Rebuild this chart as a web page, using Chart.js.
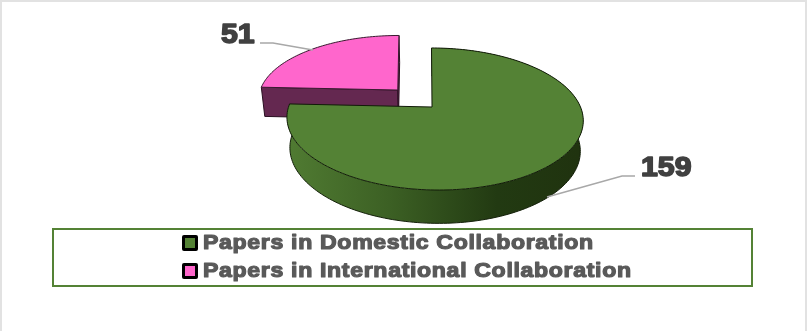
<!DOCTYPE html>
<html>
<head>
<meta charset="utf-8">
<style>
  html, body { margin: 0; padding: 0; background: #fff; }
  canvas { display: block; }
</style>
<script src="https://cdn.jsdelivr.net/npm/chart.js@4"></script>
</head>
<body>
<canvas id="chart" width="807" height="331"></canvas>
<script>
const categories = ['Papers in Domestic Collaboration', 'Papers in International Collaboration'];
const paperCounts = [159, 51];
const sliceColors = ['#548235', '#FF66CC'];
const sliceExplode = [0, 0.355];

// Tilted-disc projection: plane coordinates (u, v) to page pixels.
const disc = { cx: 434.5, cy: 107, a: 146, b: 69, tilt: 0.169, depth: 30, shrinkX: 0.98, growY: 1.04, lean: [0.024, 0.05], apexShift: -0.017 };

function project(u, v, lower) {
  const w = 1 - disc.tilt * v;
  const x = disc.a * u / w;
  const y = disc.b * v / w;
  if (!lower) return [disc.cx + x, disc.cy + y];
  return [disc.cx + x * disc.shrinkX, disc.cy + y * disc.growY + disc.depth];
}

function arcPoints(arc, lower) {
  const n = Math.max(8, Math.ceil((arc.endAngle - arc.startAngle) * 40));
  const mid = (arc.startAngle + arc.endAngle) / 2;
  const ou = Math.cos(mid) * arc.explode, ov = Math.sin(mid) * arc.explode;
  const pts = [];
  for (let i = 0; i <= n; i++) {
    const t = arc.startAngle + (arc.endAngle - arc.startAngle) * i / n;
    pts.push(project(Math.cos(t) + arc.lean * Math.sin(t) + ou, Math.sin(t) + ov, lower));
  }
  return { pts, apex: project(ou + disc.apexShift, ov, lower) };
}

function tracePolygon(ctx, pts) {
  ctx.beginPath();
  pts.forEach((p, i) => i ? ctx.lineTo(p[0], p[1]) : ctx.moveTo(p[0], p[1]));
  ctx.closePath();
}

function drawPolyline(ctx, pts, color, width) {
  ctx.beginPath();
  pts.forEach((p, i) => i ? ctx.lineTo(p[0], p[1]) : ctx.moveTo(p[0], p[1]));
  ctx.strokeStyle = color;
  ctx.lineWidth = width;
  ctx.stroke();
}

// Extra-heavy lettering: bold face, thickened by a stroke and widened horizontally.
function heavyText(ctx, text, x, y, font, color, weight, spacing, widen) {
  ctx.save();
  ctx.translate(x, y);
  ctx.scale(widen, 1);
  ctx.font = font;
  ctx.letterSpacing = spacing;
  ctx.textBaseline = 'middle';
  ctx.textAlign = 'left';
  ctx.fillStyle = color;
  ctx.strokeStyle = color;
  ctx.lineWidth = weight;
  ctx.lineJoin = 'round';
  ctx.strokeText(text, 0, 0);
  ctx.fillText(text, 0, 0);
  ctx.restore();
}

const tiltedPie = {
  id: 'tiltedPie',
  beforeDraw(chart) {
    const ctx = chart.ctx;
    ctx.save();
    ctx.fillStyle = '#fff';
    ctx.fillRect(0, 0, 807, 331);
    ctx.fillStyle = '#e2e2e2';
    ctx.fillRect(0, 0, 807, 2);
    ctx.fillRect(0, 0, 2, 331);
    ctx.fillRect(805, 0, 2, 331);
    ctx.restore();
  },
  // The slices are painted here from the geometry the controller laid out.
  beforeDatasetsDraw(chart) {
    const ctx = chart.ctx;
    const arcs = chart.getDatasetMeta(0).data.map((el, i) => ({
      startAngle: el.startAngle,
      endAngle: el.endAngle,
      explode: sliceExplode[i],
      lean: disc.lean[i],
      color: chart.data.datasets[0].backgroundColor[i]
    }));
    const [green, pink] = arcs;
    ctx.save();

    // Exploded slice sits behind the main one.
    const pTop = arcPoints(pink, false), pLow = arcPoints(pink, true);
    const tip = pTop.pts[0], tipLow = pLow.pts[0];
    const end = pTop.pts[pTop.pts.length - 1], endLow = pLow.pts[pLow.pts.length - 1];
    ctx.fillStyle = '#642850';
    ctx.strokeStyle = '#2a1022';
    ctx.lineWidth = 1;
    tracePolygon(ctx, [tip, pTop.apex, pLow.apex, tipLow]);
    ctx.fill(); ctx.stroke();
    tracePolygon(ctx, [end, pTop.apex, pLow.apex, endLow]);
    ctx.fill(); ctx.stroke();
    tracePolygon(ctx, pTop.pts.concat([pTop.apex]));
    ctx.fillStyle = pink.color;
    ctx.fill();
    ctx.strokeStyle = '#3a1a30';
    ctx.stroke();

    // Main slice: side wall, then top face.
    const gTop = arcPoints(green, false), gLow = arcPoints(green, true);
    const wall = ctx.createLinearGradient(288, 0, 578, 0);
    wall.addColorStop(0, '#507B32');
    wall.addColorStop(0.35, '#3C6024');
    wall.addColorStop(0.72, '#223A12');
    wall.addColorStop(1, '#20330F');
    tracePolygon(ctx, gTop.pts.concat(gLow.pts.slice().reverse()));
    ctx.fillStyle = wall;
    ctx.fill();
    drawPolyline(ctx, gLow.pts, '#14200a', 1);
    const last = gTop.pts.length - 1;
    drawPolyline(ctx, [gTop.pts[last], gLow.pts[last]], '#1a2a0d', 1);
    tracePolygon(ctx, gTop.pts.concat([gTop.apex]));
    ctx.fillStyle = green.color;
    ctx.fill();
    ctx.strokeStyle = '#111a08';
    ctx.stroke();
    ctx.restore();
    return false;
  },
  afterDraw(chart) {
    const ctx = chart.ctx;
    const values = chart.data.datasets[0].data;
    const colors = chart.data.datasets[0].backgroundColor;
    ctx.save();

    // Leader lines and value labels.
    drawPolyline(ctx, [[313, 50], [273, 43], [260, 43]], '#a8a8a8', 1.5);
    drawPolyline(ctx, [[547, 197], [622, 176], [635, 176]], '#a8a8a8', 1.5);
    heavyText(ctx, String(values[0]), 641, 168, 'bold 28px "Liberation Sans"', '#404040', 1.6, '0px', 1.08);
    heavyText(ctx, String(values[1]), 221, 35, 'bold 28px "Liberation Sans"', '#404040', 1.6, '0px', 1.08);

    // Legend frame and entries.
    ctx.strokeStyle = '#548235';
    ctx.lineWidth = 2;
    ctx.strokeRect(53, 229, 699, 57);
    chart.data.labels.forEach((label, i) => {
      const y = 243 + i * 28;
      ctx.beginPath();
      ctx.roundRect(182, y - 8, 16, 16, 2);
      ctx.fillStyle = '#000';
      ctx.fill();
      ctx.fillStyle = colors[i];
      ctx.fillRect(185, y - 5, 10, 10);
      heavyText(ctx, label, 203, y, 'bold 21px "Liberation Sans"', '#595959', 1.2, '0.6px', 1.1);
    });
    ctx.restore();
  }
};

new Chart(document.getElementById('chart'), {
  type: 'pie',
  data: {
    labels: categories,
    datasets: [{ data: paperCounts, backgroundColor: sliceColors, borderWidth: 0 }]
  },
  options: {
    responsive: false,
    animation: false,
    events: [],
    plugins: { legend: { display: false }, tooltip: { enabled: false } }
  },
  plugins: [tiltedPie]
});
</script>
</body>
</html>
